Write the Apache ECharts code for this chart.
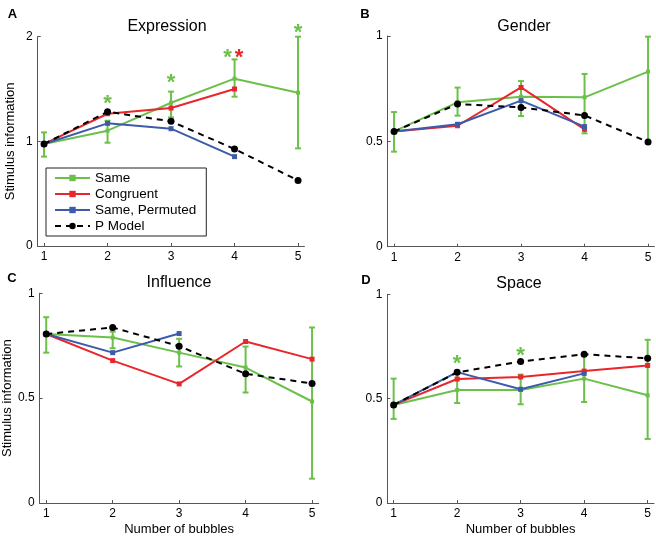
<!DOCTYPE html>
<html><head><meta charset="utf-8">
<script src="https://cdn.jsdelivr.net/npm/echarts@6/dist/echarts.min.js"></script>
<style>html,body{margin:0;padding:0;background:#fff}#c{width:656px;height:537px}</style>
</head><body><div id="c"></div>
<script>
const xTicks = [1,2,3,4,5];
const yTicksA = [0,1,2];
const yTicksB = [0,0.5,1];

// Panel A: Expression
const sameA   = [0.975,1.102,1.369,1.599,1.465];
const sameALo = [0.854,0.987,1.229,1.427,0.933];
const sameAHi = [1.086,1.197,1.475,1.783,2.0];
const congA   = [0.975,1.264,1.318,1.500];
const permA   = [0.975,1.172,1.121,0.854];
const modelA  = [0.975,1.283,1.191,0.927,0.627];
const starsAx = [2,3,3.89,4.07,5];
const starsAy = [1.411,1.611,1.857,1.857,2.096];
const starsAc = ['g','g','g','r','g'];

// Panel B: Gender
const sameB   = [0.547,0.685,0.712,0.709,0.831];
const sameBLo = [0.451,0.622,0.620,0.538,0.500];
const sameBHi = [0.639,0.755,0.786,0.820,0.997];
const congB   = [0.547,0.574,0.756,0.557];
const permB   = [0.547,0.581,0.693,0.570];
const modelB  = [0.547,0.677,0.661,0.623,0.497];

// Panel C: Influence
const sameC   = [0.806,0.789,0.717,0.646,0.484];
const sameCLo = [0.717,0.738,0.651,0.527,0.116];
const sameCHi = [0.886,0.817,0.783,0.746,0.837];
const congC   = [0.806,0.679,0.568,0.770,0.686];
const permC   = [0.806,0.717,0.808];
const modelC  = [0.806,0.837,0.748,0.616,0.570];

// Panel D: Space
const sameD   = [0.470,0.541,0.541,0.596,0.516];
const sameDLo = [0.403,0.479,0.473,0.484,0.307];
const sameDHi = [0.596,0.620,0.615,0.710,0.782];
const congD   = [0.470,0.594,0.604,0.632,0.659];
const permD   = [0.470,0.627,0.545,0.621];
const modelD  = [0.470,0.626,0.678,0.713,0.693];
const starsDx = [2,3];
const starsDy = [0.694,0.734];
const starsDc = ['g','g'];

const GREEN = '#6cc04a', RED = '#e8262b', BLUE = '#3d5ba9', BLACK = '#000';
const FONT = 'Liberation Sans, Arial, Helvetica, sans-serif';

const chart = echarts.init(document.getElementById('c'), null, {renderer:'canvas'});

function pairs(arr){ return arr.map((v,i)=>[xTicks[i], v]); }

const grids = [
  {left:37.7, top:36.7, width:266.7, height:209.3},
  {left:387.7, top:36, width:266.7, height:210.7},
  {left:37.7, top:293.3, width:281, height:210},
  {left:387.3, top:294.3, width:266.7, height:209.4}
];

function xAxis(i, named){
  return {
    type:'value', gridIndex:i, min:0.9, max:5.1,
    axisLine:{show:true, lineStyle:{color:'#555', width:1}},
    axisTick:{show:true, inside:true, length:3, customValues:xTicks, lineStyle:{color:'#555'}},
    axisLabel:{customValues:xTicks, color:'#000', fontSize:12, fontFamily:FONT, margin:5},
    splitLine:{show:false},
    name: named ? 'Number of bubbles' : '', nameLocation:'middle', nameGap:20,
    nameTextStyle:{color:'#000', fontSize:13, fontFamily:FONT}
  };
}
function yAxis(i, ticks, named){
  return {
    type:'value', gridIndex:i, min:ticks[0], max:ticks[ticks.length-1], interval:ticks[1]-ticks[0],
    axisLine:{show:true, lineStyle:{color:'#555', width:1}},
    axisTick:{show:true, inside:true, length:3, lineStyle:{color:'#555'}},
    axisLabel:{color:'#000', fontSize:12, fontFamily:FONT, margin:5},
    splitLine:{show:false},
    name: named ? 'Stimulus information' : '', nameLocation:'middle', nameGap:21,
    nameTextStyle:{color:'#000', fontSize:13, fontFamily:FONT}
  };
}

function lineSeries(name, data, i, color, opts){
  opts = opts || {};
  return {
    type:'line', name:name, xAxisIndex:i, yAxisIndex:i, data:pairs(data),
    symbol: opts.symbol || 'rect', symbolSize: opts.size || 5, showSymbol:true,
    lineStyle:{color:color, width:2, type: opts.dashed ? [6,5] : 'solid'},
    itemStyle:{color:color},
    z: opts.z || 2, animation:false, silent:true
  };
}

function errSeries(lo, hi, i){
  return {
    type:'custom', name:'err', xAxisIndex:i, yAxisIndex:i,
    data: lo.map((v,k)=>[xTicks[k], v, hi[k]]),
    renderItem:function(params, api){
      const x = api.value(0);
      const p1 = api.coord([x, api.value(1)]);
      const p2 = api.coord([x, api.value(2)]);
      const w = 3;
      const st = {stroke:GREEN, lineWidth:2};
      return {type:'group', children:[
        {type:'line', shape:{x1:p1[0], y1:p1[1], x2:p2[0], y2:p2[1]}, style:st},
        {type:'line', shape:{x1:p1[0]-w, y1:p1[1], x2:p1[0]+w, y2:p1[1]}, style:st},
        {type:'line', shape:{x1:p2[0]-w, y1:p2[1], x2:p2[0]+w, y2:p2[1]}, style:st}
      ]};
    },
    z:3, animation:false, silent:true
  };
}

function starSeries(xs, ys, cs, i){
  return {
    type:'custom', name:'stars', xAxisIndex:i, yAxisIndex:i, clip:false,
    data: xs.map((x,k)=>[x, ys[k], cs[k]==='r'?1:0]),
    renderItem:function(params, api){
      const p = api.coord([api.value(0), api.value(1)]);
      return {type:'text', x:p[0], y:p[1]+6, style:{
        text:'*', fontSize:22, fontWeight:'bold', fontFamily:FONT,
        fill: api.value(2)===1 ? RED : GREEN, align:'center', verticalAlign:'middle'}};
    },
    z:5, animation:false, silent:true
  };
}

function panel(i, same, lo, hi, cong, perm, model){
  return [
    lineSeries('Same', same, i, GREEN, {size:4, z:2}),
    lineSeries('Congruent', cong, i, RED, {z:3}),
    lineSeries('Same, Permuted', perm, i, BLUE, {z:3}),
    lineSeries('P Model', model, i, BLACK, {symbol:'circle', size:7, dashed:true, z:4}),
    errSeries(lo, hi, i)
  ];
}

const series = [].concat(
  panel(0, sameA, sameALo, sameAHi, congA, permA, modelA),
  panel(1, sameB, sameBLo, sameBHi, congB, permB, modelB),
  panel(2, sameC, sameCLo, sameCHi, congC, permC, modelC),
  panel(3, sameD, sameDLo, sameDHi, congD, permD, modelD),
  [starSeries(starsAx, starsAy, starsAc, 0), starSeries(starsDx, starsDy, starsDc, 3)]
);

function txt(x, y, s, size, bold){
  return {type:'text', x:x, y:y, style:{text:s, fontSize:size, fontWeight: bold?'bold':'normal',
    fontFamily:FONT, fill:'#000', align:'center', verticalAlign:'middle'}, z:10};
}

chart.setOption({
  backgroundColor:'#fff',
  animation:false,
  grid: grids,
  xAxis:[xAxis(0,false), xAxis(1,false), xAxis(2,true), xAxis(3,true)],
  yAxis:[yAxis(0,yTicksA,true), yAxis(1,yTicksB,false), yAxis(2,yTicksB,true), yAxis(3,yTicksB,false)],
  legend:{
    data:['Same','Congruent','Same, Permuted','P Model'],
    orient:'vertical', left:46, top:168, itemWidth:35, itemHeight:8, itemGap:2,
    padding:[3,10,3,8], borderColor:'#222', borderWidth:1, backgroundColor:'#fff',
    textStyle:{color:'#000', fontSize:13.5, fontFamily:FONT, lineHeight:14}, selectedMode:false, z:20
  },
  graphic:[
    txt(167,27,'Expression',16), txt(524,27,'Gender',16),
    txt(179,283,'Influence',16), txt(519,284,'Space',16),
    txt(12.5,14.5,'A',13,true), txt(365,14,'B',13,true),
    txt(12,278,'C',13,true), txt(366,280,'D',13,true)
  ],
  series: series
});
</script></body></html>
